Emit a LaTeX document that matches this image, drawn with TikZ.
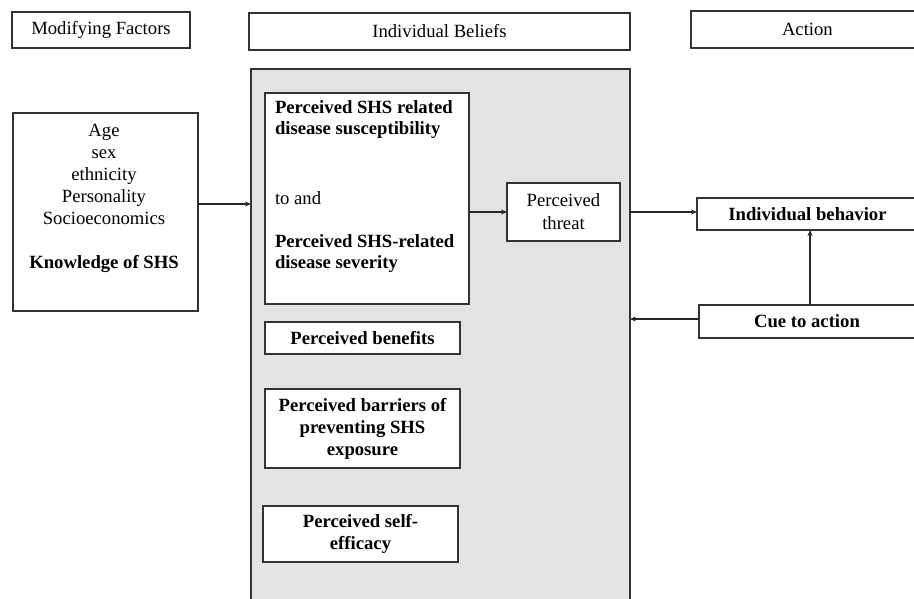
\documentclass[tikz,border=0pt]{standalone}
\usepackage{fontspec}
\setmainfont{Liberation Serif}
\usetikzlibrary{arrows.meta}
\begin{document}
\begin{tikzpicture}[x=1pt,y=-1pt,
  every node/.style={inner sep=0pt, outer sep=0pt},
  txt/.style={font=\fontsize{18.67}{22}\selectfont},
  bx/.style={draw=black!80, line width=1.8pt, fill=white, txt},
  arr/.style={draw=black!85, line width=1.3pt, -{Stealth[length=6pt,width=5pt]}}]
\useasboundingbox (0,0) rectangle (914,599);
\clip (0,0) rectangle (914,599);
% headers
\node[bx, minimum width=178, minimum height=36] (mf) at (101,30) {Modifying Factors};
\node[bx, minimum width=381, minimum height=37] (ib) at (439.5,31.5) {Individual Beliefs};
\node[bx, minimum width=234, minimum height=37, text width=234, align=left] (act) at (808,29.5) {\hspace*{91pt}Action};
% gray container
\node[draw=black!80, line width=1.8pt, fill=black!11, minimum width=379, minimum height=560] (beliefs) at (440.5,349) {};
% modifying factors box
\node[bx, minimum width=185, minimum height=198] (lb) at (105.5,212) {};
\node[txt, align=center] (lbt) at (104,198) {Age\\sex\\ethnicity\\Personality\\Socioeconomics\\[22pt]\textbf{Knowledge of SHS}};
% perceived susceptibility / severity
\node[bx, minimum width=204, minimum height=211] (sus) at (367,198.5) {};
\node[txt, anchor=west, align=left, font=\fontsize{18.67}{21}\selectfont\bfseries] (sust) at (275,120) {Perceived SHS related\\disease susceptibility};
\node[txt, anchor=west] (toand) at (275,198) {to and};
\node[txt, anchor=west, align=left, font=\fontsize{18.67}{21}\selectfont\bfseries] (sevt) at (275,254) {Perceived SHS-related\\disease severity};
% threat
\node[bx, minimum width=113, minimum height=58, align=center, font=\fontsize{18.67}{23}\selectfont] (threat) at (563.5,212) {Perceived\\threat};
% other beliefs
\node[bx, minimum width=195, minimum height=32, font=\fontsize{18.67}{22}\selectfont\bfseries] (ben) at (362.5,338) {Perceived benefits};
\node[bx, minimum width=195, minimum height=79, align=center, font=\fontsize{18.67}{22}\selectfont\bfseries] (bar) at (362.5,428.5) {Perceived barriers of\\preventing SHS\\exposure};
\node[bx, minimum width=195, minimum height=56, align=center, font=\fontsize{18.67}{22}\selectfont\bfseries] (eff) at (360.5,534) {Perceived self-\\efficacy};
% action side
\node[bx, minimum width=221, minimum height=32, font=\fontsize{18.67}{22}\selectfont\bfseries] (beh) at (807.5,214) {Individual behavior};
\node[bx, minimum width=216, minimum height=33, font=\fontsize{18.67}{22}\selectfont\bfseries] (cue) at (807,321.5) {Cue to action};
% connectors
\draw[arr] ([yshift=8]lb.east) -- ([yshift=8]lb.east -| beliefs.west);
\draw[arr] (threat.west -| sus.east) -- (threat.west);
\draw[arr] (beliefs.east |- threat.east) -- ([yshift=2]beh.west);
\draw[arr] ([xshift=3]cue.north) -- ([xshift=3]cue.north |- beh.south);
\draw[arr] ([yshift=2.5]cue.west) -- ([yshift=2.5]cue.west -| beliefs.east);
\end{tikzpicture}
\end{document}
